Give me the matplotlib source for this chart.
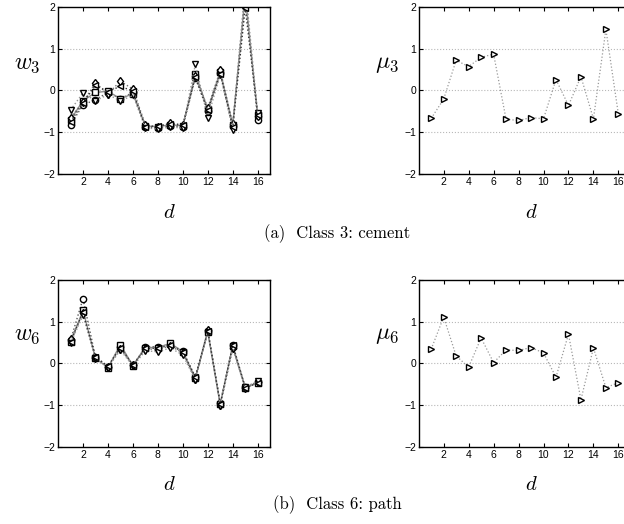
import numpy as np
import matplotlib
matplotlib.use("Agg")
import matplotlib.pyplot as plt

plt.rcParams["mathtext.fontset"] = "cm"
plt.rcParams["font.family"] = "Liberation Sans"

d = np.arange(1, 17)

# class 3: cement -- weights from several runs
w3_o = [-0.82, -0.35, -0.22, -0.05, -0.20, -0.05, -0.88, -0.90, -0.85, -0.88, 0.30, -0.50, 0.42, -0.85, 2.40, -0.72]
w3_s = [-0.70, -0.25, -0.05, -0.02, -0.20, -0.08, -0.85, -0.87, -0.82, -0.85, 0.40, -0.45, 0.45, -0.82, 2.30, -0.60]
w3_d = [-0.65, -0.28, 0.18, -0.08, 0.22, 0.03, -0.82, -0.88, -0.78, -0.82, 0.35, -0.42, 0.48, -0.80, 2.20, -0.62]
w3_v = [-0.47, -0.06, -0.25, -0.10, -0.25, -0.12, -0.90, -0.92, -0.88, -0.90, 0.62, -0.65, 0.38, -0.95, 2.50, -0.55]
w3_l = [-0.75, -0.30, 0.12, -0.03, 0.10, -0.02, -0.87, -0.85, -0.80, -0.84, 0.32, -0.48, 0.40, -0.88, 1.98, -0.58]
mu3 = [-0.67, -0.21, 0.72, 0.57, 0.79, 0.87, -0.69, -0.72, -0.65, -0.68, 0.26, -0.36, 0.33, -0.68, 1.46, -0.57]

# class 6: path
w6_o = [0.55, 1.55, 0.15, -0.08, 0.40, -0.05, 0.40, 0.40, 0.45, 0.30, -0.32, 0.78, -0.95, 0.45, -0.57, -0.44]
w6_s = [0.50, 1.27, 0.12, -0.10, 0.45, -0.06, 0.38, 0.38, 0.48, 0.28, -0.35, 0.76, -0.98, 0.42, -0.58, -0.46]
w6_d = [0.58, 1.20, 0.14, -0.09, 0.35, -0.03, 0.35, 0.33, 0.42, 0.25, -0.38, 0.80, -1.00, 0.38, -0.60, -0.45]
w6_v = [0.48, 1.15, 0.13, -0.10, 0.32, -0.07, 0.30, 0.28, 0.37, 0.20, -0.40, 0.74, -1.02, 0.35, -0.56, -0.43]
w6_l = [0.52, 1.22, 0.16, -0.07, 0.38, -0.04, 0.36, 0.36, 0.44, 0.27, -0.33, 0.77, -0.97, 0.44, -0.59, -0.47]
mu6 = [0.34, 1.11, 0.18, -0.09, 0.61, 0.02, 0.32, 0.31, 0.38, 0.25, -0.33, 0.70, -0.87, 0.37, -0.58, -0.46]

markers = ["o", "s", "d", "v", "<"]
styles = [":", "-", ":", ":", ":"]
greys = ["0.35", "0.55", "0.45", "0.6", "0.2"]


def setup(ax):
    ax.set_xlim(0, 17)
    ax.set_ylim(-2, 2)
    ax.set_xticks(range(2, 17, 2))
    ax.set_yticks([-2, -1, 0, 1, 2])
    ax.set_yticklabels(["\u22122", "\u22121", "0", "1", "2"])
    ax.tick_params(direction="in", top=True, right=True, length=3, labelsize=7.5, pad=2)
    for y in [-1, 0, 1]:
        ax.axhline(y, color="0.72", ls=":", lw=0.8, zorder=0)
    for s in ax.spines.values():
        s.set_linewidth(1.0)


def plot_w(ax, series):
    for vals, m, ls, c in zip(series, markers, styles, greys):
        ax.plot(d, vals, ls=ls, color=c, lw=1.0, marker=m, ms=4.5,
                mfc="white", mec="black", mew=1.0)


def plot_mu(ax, vals):
    ax.plot(d, vals, ls=":", color="0.6", lw=0.9, marker=">", ms=5,
            mfc="white", mec="black", mew=1.0)


fig = plt.figure(figsize=(6.24, 5.24), dpi=100)

axw3 = fig.add_axes([0.093, 0.668, 0.340, 0.319])
axm3 = fig.add_axes([0.671, 0.668, 0.340, 0.319])
axw6 = fig.add_axes([0.093, 0.147, 0.340, 0.319])
axm6 = fig.add_axes([0.671, 0.147, 0.340, 0.319])

for ax in [axw3, axm3, axw6, axm6]:
    setup(ax)

plot_w(axw3, [w3_o, w3_s, w3_d, w3_v, w3_l])
plot_mu(axm3, mu3)
plot_w(axw6, [w6_o, w6_s, w6_d, w6_v, w6_l])
plot_mu(axm6, mu6)

# labels in figure pixel coordinates (y from top)
W, H = 624, 524
def fx(px):
    return px / W
def fy(py):
    return 1 - py / H

fig.text(fx(27), fy(64), r"$w_3$", fontsize=17, ha="center", va="center")
fig.text(fx(387), fy(64), r"$\mu_3$", fontsize=17, ha="center", va="center")
fig.text(fx(27), fy(335), r"$w_6$", fontsize=17, ha="center", va="center")
fig.text(fx(387), fy(335), r"$\mu_6$", fontsize=17, ha="center", va="center")

for x in [169, 531]:
    fig.text(fx(x), fy(212), r"$d$", fontsize=15, ha="center", va="center")
    fig.text(fx(x), fy(484), r"$d$", fontsize=15, ha="center", va="center")

fig.text(fx(337), fy(234), "(a)  Class 3: cement", fontsize=12,
         family="cmr10", ha="center", va="center")
fig.text(fx(337), fy(505), "(b)  Class 6: path", fontsize=12,
         family="cmr10", ha="center", va="center")

fig.savefig("out.png", dpi=100)
